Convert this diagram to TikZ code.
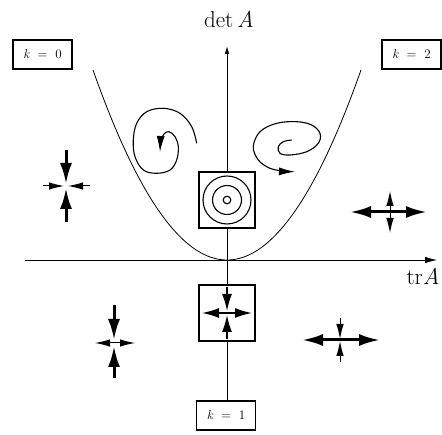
\documentclass[tikz,border=0pt]{standalone}
\usepackage{fontspec}
\usetikzlibrary{arrows.meta}
\begin{document}
\begin{tikzpicture}[x=1pt,y=-1pt,
  lbl/.style={draw,line width=1.6pt,fill=white,minimum width=59pt,minimum height=29pt,inner sep=0pt,font=\fontsize{13}{15}\selectfont},
  pbox/.style={draw,line width=1.2pt,fill=white,minimum size=56pt,inner sep=0pt},
  axisline/.style={line width=0.8pt},
  vaxarrow/.style={axisline,-{Latex[length=8pt,width=4.5pt]}},
  haxarrow/.style={axisline,-{Latex[length=12pt,width=6.5pt]}},
  big/.style={line width=3pt,-{Latex[length=21pt,width=12pt]}},
  small/.style={line width=1pt,-{Latex[length=15pt,width=7.5pt]}},
  mid/.style={line width=1.6pt,-{Latex[length=17pt,width=10pt]}},
  traj/.style={line width=1.1pt,-{Latex[length=16pt,width=8pt]}},
  axlabel/.style={font=\fontsize{23}{27}\selectfont,inner sep=0pt,anchor=base}]
\useasboundingbox (0,0) rectangle (442,435);
% labels in boxes
\node[lbl] (k0) at (42.5,54.5) {\textit{k}\hspace{0.6em}=\hspace{0.6em}0};
\node[lbl] (k2) at (411.5,54.5) {\textit{k}\hspace{0.6em}=\hspace{0.6em}2};
\node[lbl] (k1) at (226,415.5) {\textit{k}\hspace{0.6em}=\hspace{0.6em}1};
% axes
\coordinate (ytop) at (227,46);
\coordinate (xl) at (25,260);
\coordinate (xr) at (437,260);
\draw[vaxarrow] (k1.north -| ytop) -- (ytop);
\draw[haxarrow] (xl) -- (xr);
\node[axlabel] (det) at (229,28) {det\,\textit{A}};
\node[axlabel] (tr) at (423,285) {tr\textit{A}};
% parabola
\draw[line width=0.8pt] plot[domain=93:361,samples=120] (\x,{260-190*((\x-227)/134)^2});
% center boxes
\node[pbox] (cbox) at (227,200) {};
\draw[line width=1.1pt] (cbox.center) circle[radius=24] circle[radius=14.5] circle[radius=3.8];
\node[pbox] (sbox) at (227,313) {};
\begin{scope}[shift={(sbox.center)}]
  \draw[mid] (0,-26) -- (0,-2);
  \draw[mid] (0,26) -- (0,2);
  \draw[mid] (0,0) -- (-25,0);
  \draw[mid] (0,0) -- (25,0);
\end{scope}
% cross A: stable node
\begin{scope}[shift={(66,186)}]
  \draw[big] (0,-36) -- (0,-2);
  \draw[big] (0,36) -- (0,2);
  \draw[small] (-23,0) -- (-2,0);
  \draw[small] (24,0) -- (2,0);
\end{scope}
% cross B: unstable node
\begin{scope}[shift={(390,212)}]
  \draw[big] (0,0) -- (-40,0);
  \draw[big] (0,0) -- (37,0);
  \draw[small] (0,0) -- (0,-21);
  \draw[small] (0,0) -- (0,21);
\end{scope}
% cross C: saddle
\begin{scope}[shift={(114,343)}]
  \draw[big] (0,-38) -- (0,-3);
  \draw[big] (0,35) -- (0,3);
  \draw[small] (0,0) -- (-19,0);
  \draw[small] (0,0) -- (21,0);
\end{scope}
% cross D: saddle
\begin{scope}[shift={(340,340)}]
  \draw[big] (0,0) -- (-38,0);
  \draw[big] (0,0) -- (40,0);
  \draw[small] (0,-22) -- (0,-1);
  \draw[small] (0,22) -- (0,1);
\end{scope}
% spirals
\draw[traj] plot[smooth,tension=0.6] coordinates {(196.7,143.3) (191.7,126.7) (180,113.3) (163.3,108.3) (146.7,111.7) (136.7,123.3) (133.3,140) (135,156.7) (143.3,170) (156.7,173.3) (170,170) (176.7,160) (178.3,146.7) (175,136.7) (169,131.7) (164,134) (161,141) (160,152)};
\draw[traj] plot[smooth,tension=0.6] coordinates {(291.7,140) (283.3,141.7) (278.3,146.7) (280,153.3) (290,155) (306.7,151.7) (318.3,143.3) (320,133.3) (311.7,125) (296.7,121.7) (276.7,123.3) (260,131.7) (253.3,146.7) (258.3,160) (270,168.3) (283.3,171) (295,171.7)};
\end{tikzpicture}
\end{document}
